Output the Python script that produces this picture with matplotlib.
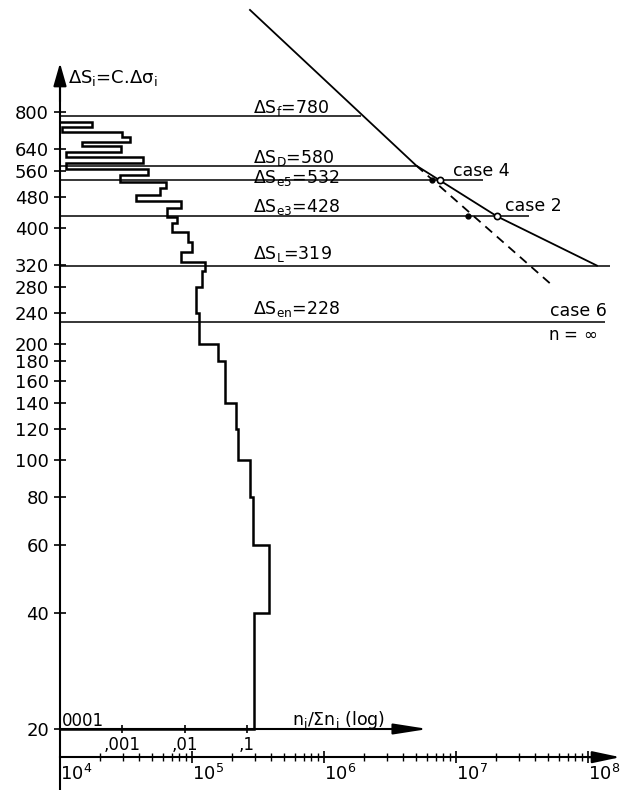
import matplotlib
matplotlib.use('Agg')
import matplotlib.pyplot as plt
from matplotlib.ticker import NullLocator, NullFormatter, LogFormatterSciNotation

plt.rcParams['font.family'] = 'DejaVu Sans'
plt.rcParams['mathtext.default'] = 'regular'

# stress range axis
y_ticks = [20, 40, 60, 80, 100, 120, 140, 160, 180, 200, 240, 280, 320, 400, 480, 560, 640, 800]
n_ticks = [1e4, 1e5, 1e6, 1e7, 1e8]

# characteristic stress levels and where each horizontal line stops (cycles)
lvl_labels = [r'$\Delta S_f$=780', r'$\Delta S_D$=580', r'$\Delta S_{e5}$=532',
              r'$\Delta S_{e3}$=428', r'$\Delta S_L$=319', r'$\Delta S_{en}$=228']
lvl_S = [780, 580, 532, 428, 319, 228]
lvl_end_N = [1.9e6, 5.0e6, 1.6e7, 3.6e7, 1.47e8, 1.35e8]

# S-N curve (solid) and m=3 extension (dashed)
sn_N = [2.75e5, 5.0e6, 2.05e7, 1.17e8]
sn_S = [1470, 580, 428, 319]
ext_N = [5.0e6, 5.15e7]
ext_S = [580, 287]

# damage-equivalent points
case_N_curve = [7.6e6, 2.05e7]
case_N_ext = [6.6e6, 1.23e7]
case_S = [532, 428]

# stress spectrum: relative frequency n_i/sum(n_i) per stress range class
hist_edges = [20, 40, 60, 80, 100, 120, 140, 180, 200, 240, 280, 308, 326, 347, 368,
              391, 412, 426, 449, 469, 486, 506, 527, 548, 568, 588, 609, 630, 652,
              669, 689, 708, 729, 754]
hist_frac = [0.130, 0.229, 0.127, 0.112, 0.0711, 0.0668, 0.0445, 0.0348, 0.0170,
             0.0152, 0.0188, 0.0212, 0.00865, 0.0130, 0.0115, 0.0062, 0.0075, 0.0053,
             0.0088, 0.00166, 0.0040, 0.0050, 0.00092, 0.00256, 0.000125, 0.00217,
             0.000125, 0.00095, 0.000223, 0.00133, 0.00098, 0.000106, 0.00033]
frac_ticks = [1e-3, 1e-2, 1e-1]
frac_labels = [',001', ',01', ',1']

W, H = 621, 790
fig = plt.figure(figsize=(W / 100, H / 100), dpi=100)
rect = [60 / W, 0, 561 / W, 1]
ax = fig.add_axes(rect)
ax.set_xscale('log')
ax.set_yscale('log')
ax.set_xlim(1e4, 1.78e8)
ax.set_ylim(13.89, 1560)

for s in ['top', 'right']:
    ax.spines[s].set_visible(False)
ax.spines['left'].set_bounds(13.89, 1000)
ax.spines['left'].set_linewidth(1.5)
ax.spines['bottom'].set_position(('data', 16.9))
ax.spines['bottom'].set_bounds(1e4, 1.1e8)
ax.spines['bottom'].set_linewidth(1.5)

ax.set_yticks(y_ticks)
ax.set_yticklabels([str(v) for v in y_ticks])
ax.yaxis.set_minor_locator(NullLocator())
ax.tick_params(axis='y', direction='inout', length=8, width=1.2, labelsize=13, pad=4)

ax.set_xticks(n_ticks)
ax.xaxis.set_major_formatter(LogFormatterSciNotation())
ax.xaxis.set_minor_formatter(NullFormatter())
ax.tick_params(axis='x', which='major', direction='inout', length=8, width=1.2,
               labelsize=13, pad=1)
ax.tick_params(axis='x', which='minor', direction='inout', length=6, width=1.0)
for lab in ax.get_xticklabels():
    lab.set_ha('left')

# axis arrows
ax.annotate('', xy=(1e4, 1070), xytext=(1e4, 850),
            arrowprops=dict(arrowstyle='-|>,head_length=0.7,head_width=0.2',
                            color='k', lw=1.5, mutation_scale=20, shrinkA=0, shrinkB=0))
ax.annotate('', xy=(1.76e8, 16.9), xytext=(1.0e8, 16.9),
            arrowprops=dict(arrowstyle='-|>,head_length=0.85,head_width=0.18',
                            color='k', lw=1.5, mutation_scale=20, shrinkA=0, shrinkB=0))

# horizontal stress levels
ax.hlines(lvl_S, 1e4, lvl_end_N, colors='k', lw=1.1)
lbl_off = [2.5, 2.0, -2.0, 3.0, 5.0, 5.5]
for lab, s, off in zip(lvl_labels, lvl_S, lbl_off):
    ax.annotate(lab, xy=(2.9e5, s), xytext=(0, off), textcoords='offset points',
                fontsize=12.5, va='baseline', ha='left')

# S-N curve
ax.plot(sn_N, sn_S, color='k', lw=1.3)
ax.plot(ext_N, ext_S, color='k', lw=1.3, ls=(0, (5, 3.5)))
ax.plot(case_N_curve, case_S, 'o', ms=4.5, mfc='white', mec='k', mew=1.2)
ax.plot(case_N_ext, case_S, 'o', ms=3.5, mfc='k', mec='k')

ax.annotate('case 4', xy=(9.5e6, 532), xytext=(0, 3), textcoords='offset points',
            fontsize=12.5, va='baseline', ha='left')
ax.annotate('case 2', xy=(2.35e7, 428), xytext=(0, 4), textcoords='offset points',
            fontsize=12.5, va='baseline', ha='left')
ax.annotate('case 6', xy=(1.39e8, 228), xytext=(0, 4), textcoords='offset points',
            fontsize=12.5, va='baseline', ha='right')
ax.annotate(r'n = $\infty$', xy=(7.6e7, 228), xytext=(0, -3), textcoords='offset points',
            fontsize=12, va='top', ha='center')

# spectrum on its own log axis (n_i / sum n_i)
ax2 = fig.add_axes(rect, sharey=ax)
ax2.patch.set_visible(False)
ax2.set_xscale('log')
ax2.set_xlim(1e-4, 1e5)
for s in ['top', 'right', 'left']:
    ax2.spines[s].set_visible(False)
ax2.spines['bottom'].set_position(('data', 20))
ax2.spines['bottom'].set_bounds(1e-4, 30)
ax2.spines['bottom'].set_linewidth(1.5)
ax2.tick_params(axis='y', left=False, labelleft=False, which='both')
ax2.set_xticks(frac_ticks)
ax2.set_xticklabels(frac_labels)
ax2.xaxis.set_minor_locator(NullLocator())
ax2.tick_params(axis='x', direction='inout', length=6, width=1.2, labelsize=12, pad=2)
ax2.annotate('', xy=(80, 20), xytext=(25, 20),
             arrowprops=dict(arrowstyle='-|>,head_length=1.15,head_width=0.18',
                             color='k', lw=1.5, mutation_scale=18, shrinkA=0, shrinkB=0))

ax2.stairs(hist_frac, hist_edges, orientation='horizontal', baseline=1e-4,
           color='k', lw=1.8, clip_on=False)

fig.text(68 / W, 1 - 83 / H, r'$\Delta S_i$=C.$\Delta \sigma_i$', fontsize=13, va='baseline')
fig.text(292 / W, 1 - 725 / H, r'n$_i$/$\Sigma$n$_i$ (log)', fontsize=12.5, va='baseline')
fig.text(62 / W, 1 - 726 / H, '0001', fontsize=12, va='baseline')

fig.savefig('out.png', dpi=100)
